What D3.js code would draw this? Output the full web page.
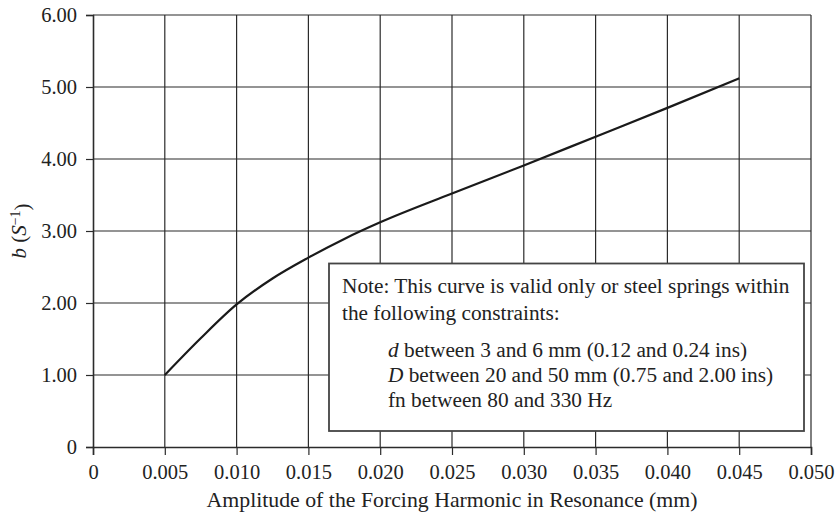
<!DOCTYPE html>
<html>
<head>
<meta charset="utf-8">
<script src="https://cdn.jsdelivr.net/npm/d3@7"></script>
<style>
  body { margin: 0; background: #fff; }
  svg { font-family: "Liberation Serif", "DejaVu Serif", serif; }
</style>
</head>
<body>
<div id="chart"></div>
<script>
var width = 839
var height = 517
var margins = { top: 15, right: 28, bottom: 70, left: 93 }

// curve: amplitude (mm) -> b (1/s)
var amplitude = [0.005, 0.0075, 0.010, 0.0125, 0.015, 0.0175, 0.020, 0.025, 0.030, 0.035, 0.040, 0.045]
var bValues = [1.00, 1.51, 1.98, 2.34, 2.63, 2.89, 3.12, 3.52, 3.91, 4.31, 4.71, 5.12]

var xTicks = [0, 0.005, 0.010, 0.015, 0.020, 0.025, 0.030, 0.035, 0.040, 0.045, 0.050]
var xTickLabels = ["0", "0.005", "0.010", "0.015", "0.020", "0.025", "0.030", "0.035", "0.040", "0.045", "0.050"]
var yTicks = [0, 1, 2, 3, 4, 5, 6]
var yTickLabels = ["0", "1.00", "2.00", "3.00", "4.00", "5.00", "6.00"]

var noteLines = [
  "Note: This curve is valid only or steel springs within",
  "the following constraints:"
]
var constraintLines = [
  { sym: "d", rest: " between 3 and 6 mm (0.12 and 0.24 ins)" },
  { sym: "D", rest: " between 20 and 50 mm (0.75 and 2.00 ins)" },
  { sym: "", rest: "fn between 80 and 330 Hz" }
]

var svg = d3.select("#chart").append("svg").attr("width", width).attr("height", height)

var x = d3.scaleLinear().domain([0, 0.05]).range([margins.left, width - margins.right])
var y = d3.scaleLinear().domain([0, 6]).range([height - margins.bottom, margins.top])

var lineColor = "#2b2b2b"

// grid
svg.append("g").selectAll("line")
  .data(xTicks.slice(1))
  .enter().append("line")
    .attr("x1", d => x(d)).attr("x2", d => x(d))
    .attr("y1", y(0)).attr("y2", y(6))
    .attr("stroke", lineColor).attr("stroke-width", 1.2)

svg.append("g").selectAll("line")
  .data(yTicks.slice(1))
  .enter().append("line")
    .attr("x1", x(0)).attr("x2", x(0.05))
    .attr("y1", d => y(d)).attr("y2", d => y(d))
    .attr("stroke", lineColor).attr("stroke-width", 1.2)

// axes
var xAxis = d3.axisBottom(x).tickValues(xTicks).tickSize(8).tickPadding(9)
  .tickFormat((d, i) => xTickLabels[i])
var yAxis = d3.axisLeft(y).tickValues(yTicks).tickSize(7).tickPadding(9)
  .tickFormat((d, i) => yTickLabels[i])

var gx = svg.append("g").attr("transform", "translate(0," + y(0) + ")").call(xAxis)
var gy = svg.append("g").attr("transform", "translate(" + x(0) + ",0)").call(yAxis)

;[gx, gy].forEach(g => {
  g.select(".domain").attr("stroke", lineColor).attr("stroke-width", 1.6)
  g.selectAll(".tick line").attr("stroke", lineColor).attr("stroke-width", 1.2)
  g.selectAll(".tick text").attr("fill", "#222").style("font-size", "20.5px")
    .style("font-family", "Liberation Serif, serif")
})
gy.selectAll(".tick text").attr("dy", "0.33em")

// curve
var line = d3.line()
  .x((d, i) => x(amplitude[i]))
  .y(d => y(d))
  .curve(d3.curveMonotoneX)

svg.append("path")
  .datum(bValues)
  .attr("d", line)
  .attr("fill", "none")
  .attr("stroke", "#1a1a1a")
  .attr("stroke-width", 2.2)

// note box
var box = svg.append("g")
box.append("rect")
  .attr("x", 329).attr("y", 263.5)
  .attr("width", 475).attr("height", 167.5)
  .attr("fill", "#fff")
  .attr("stroke", "#444").attr("stroke-width", 1.8)

box.selectAll(".note")
  .data(noteLines)
  .enter().append("text")
    .attr("class", "note")
    .attr("x", 342)
    .attr("y", (d, i) => 293 + i * 27)
    .attr("fill", "#222")
    .style("font-size", "21.3px")
    .text(d => d)

var cl = box.selectAll(".constraint")
  .data(constraintLines)
  .enter().append("text")
    .attr("class", "constraint")
    .attr("x", 388)
    .attr("y", (d, i) => 357 + i * 25)
    .attr("fill", "#222")
    .style("font-size", "21.3px")
cl.append("tspan").style("font-style", "italic").text(d => d.sym)
cl.append("tspan").text(d => d.rest)

// axis titles
svg.append("text")
  .attr("x", (x(0) + x(0.05)) / 2)
  .attr("y", 507)
  .attr("text-anchor", "middle")
  .attr("fill", "#222")
  .style("font-size", "21.8px")
  .text("Amplitude of the Forcing Harmonic in Resonance (mm)")

var yt = svg.append("text")
  .attr("transform", "translate(26,231) rotate(-90)")
  .attr("text-anchor", "middle")
  .attr("fill", "#222")
  .style("font-size", "21px")
yt.append("tspan").style("font-style", "italic").text("b")
yt.append("tspan").text(" (")
yt.append("tspan").style("font-style", "italic").text("S")
yt.append("tspan").attr("dy", "-0.45em").style("font-size", "14px").text("\u22121")
yt.append("tspan").attr("dy", "0.45em").text(")")
</script>
</body>
</html>
